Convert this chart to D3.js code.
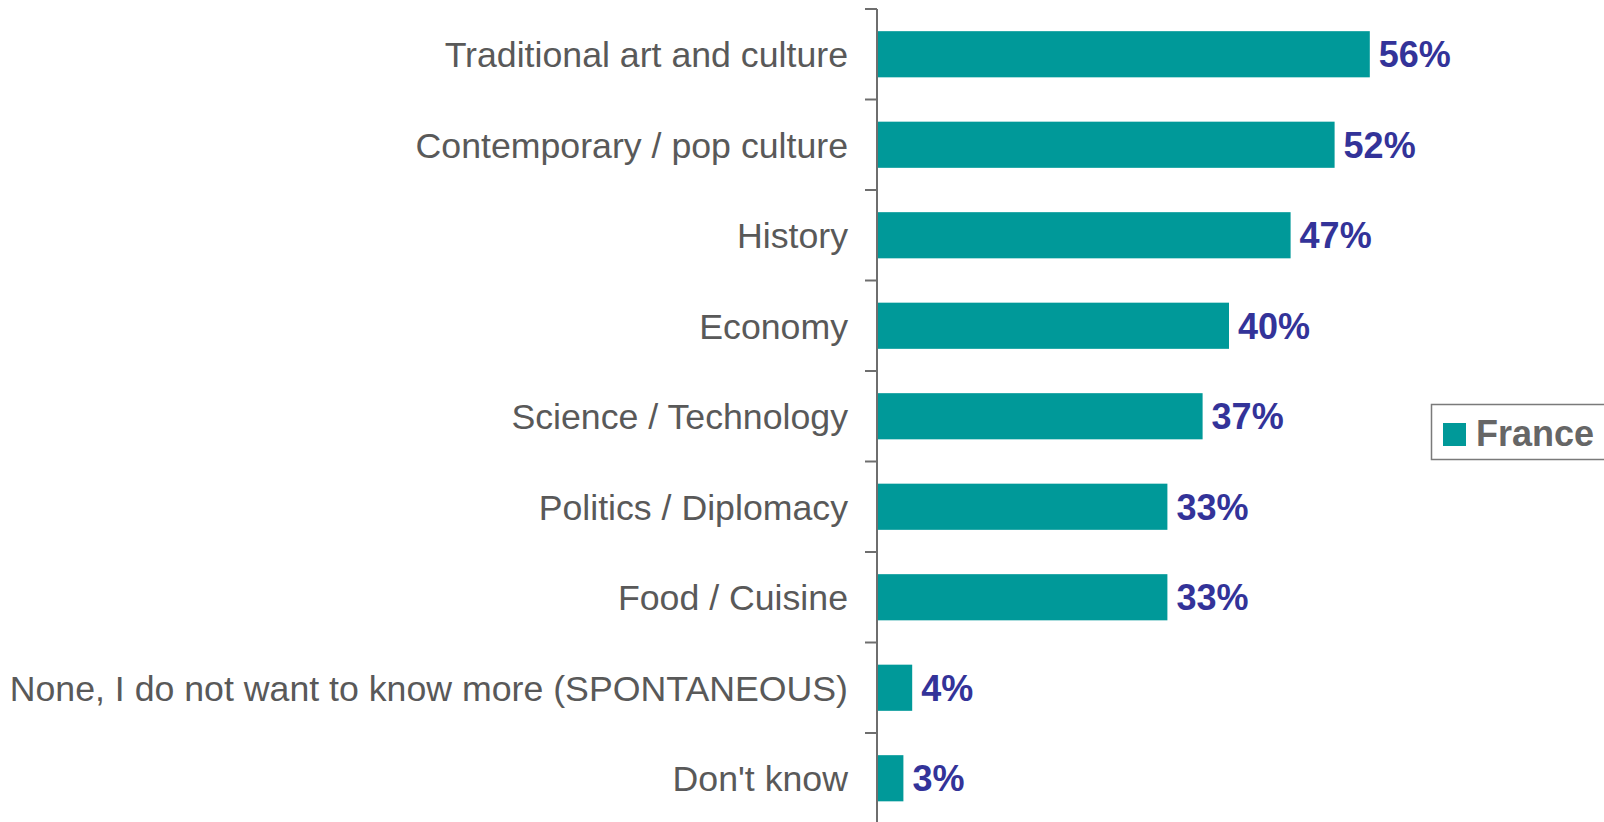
<!DOCTYPE html>
<html>
<head>
<meta charset="utf-8">
<script src="https://cdn.jsdelivr.net/npm/d3@7"></script>
<style>
  body { margin: 0; background: #fff; }
  svg { display: block; }
</style>
</head>
<body>
<div id="chart"></div>
<script>
const categories = [
  "Traditional art and culture",
  "Contemporary / pop culture",
  "History",
  "Economy",
  "Science / Technology",
  "Politics / Diplomacy",
  "Food / Cuisine",
  "None, I do not want to know more (SPONTANEOUS)",
  "Don't know"
];
const values = [56, 52, 47, 40, 37, 33, 33, 4, 3];
const seriesName = "France";

const W = 1604, H = 822;
const margin = {top: 9, left: 877};
const bandH = 90.5;

const svg = d3.select("#chart").append("svg")
  .attr("width", W)
  .attr("height", H);

const y = d3.scaleBand()
  .domain(categories)
  .range([margin.top, margin.top + bandH * categories.length])
  .paddingInner(0.49)
  .paddingOuter(0.245);

const x = d3.scaleLinear()
  .domain([0, 100])
  .range([margin.left, margin.left + 880]);

// bars
svg.selectAll("rect.bar")
  .data(values)
  .enter()
  .append("rect")
    .attr("class", "bar")
    .attr("x", x(0))
    .attr("y", (d, i) => y(categories[i]))
    .attr("width", d => x(d) - x(0))
    .attr("height", y.bandwidth())
    .attr("fill", "#009999");

// value labels
svg.selectAll("text.val")
  .data(values)
  .enter()
  .append("text")
    .attr("class", "val")
    .attr("x", d => x(d) + 9)
    .attr("y", (d, i) => y(categories[i]) + y.bandwidth() / 2)
    .attr("dy", "0.36em")
    .style("font-family", "'Liberation Sans', Arial, sans-serif")
    .style("font-size", "36px")
    .style("font-weight", "bold")
    .attr("fill", "#333399")
    .text(d => d + "%");

// axis with ticks between categories
const axisG = svg.append("g");
axisG.append("line")
  .attr("x1", x(0)).attr("x2", x(0))
  .attr("y1", margin.top).attr("y2", H)
  .attr("stroke", "#6e6e6e")
  .attr("stroke-width", 2);
const tickYs = d3.range(categories.length + 1).map(i => margin.top + i * bandH);
axisG.selectAll("line.tick")
  .data(tickYs)
  .enter()
  .append("line")
    .attr("class", "tick")
    .attr("x1", x(0) - 12).attr("x2", x(0))
    .attr("y1", d => d).attr("y2", d => d)
    .attr("stroke", "#6e6e6e")
    .attr("stroke-width", 2);

// category labels
svg.selectAll("text.cat")
  .data(categories)
  .enter()
  .append("text")
    .attr("class", "cat")
    .attr("x", 848)
    .attr("y", d => y(d) + y.bandwidth() / 2)
    .attr("dy", "0.36em")
    .attr("text-anchor", "end")
    .style("font-family", "'Liberation Sans', Arial, sans-serif")
    .style("font-size", "35.7px")
    .attr("fill", "#595959")
    .text(d => d);

// legend
const lg = svg.append("g");
lg.append("rect")
  .attr("x", 1431.5).attr("y", 404.5)
  .attr("width", 200).attr("height", 55)
  .attr("fill", "#fff")
  .attr("stroke", "#7a7a7a")
  .attr("stroke-width", 1.5);
lg.append("rect")
  .attr("x", 1443).attr("y", 423)
  .attr("width", 23).attr("height", 23)
  .attr("fill", "#009999");
lg.append("text")
  .attr("x", 1476).attr("y", 446)
  .style("font-family", "'Liberation Sans', Arial, sans-serif")
  .style("font-size", "36px")
  .style("font-weight", "bold")
  .attr("fill", "#666666")
  .text(seriesName);
</script>
</body>
</html>
